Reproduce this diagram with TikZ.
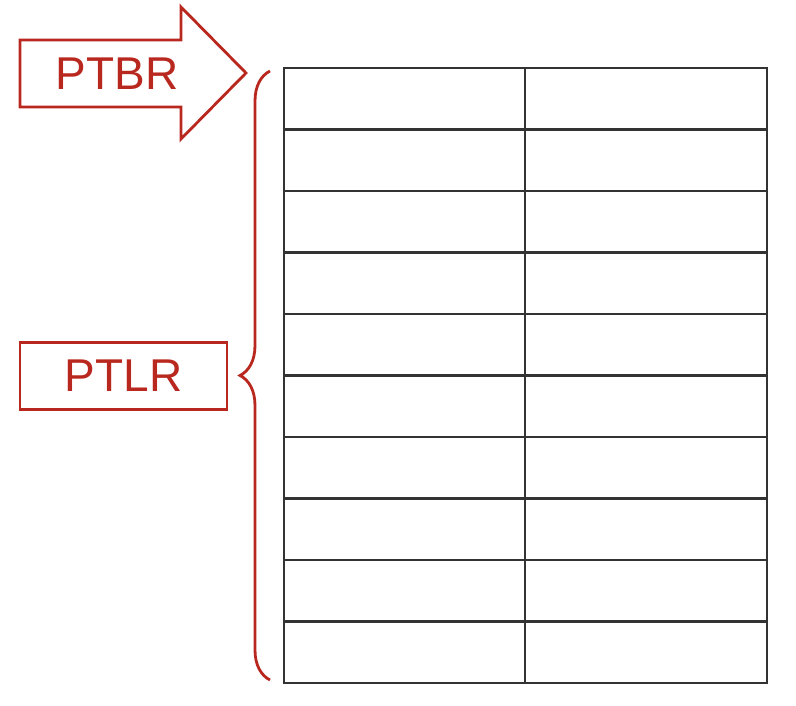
\documentclass[tikz,border=0pt]{standalone}
\usepackage{fontspec}
\setmainfont{Liberation Sans}
\usepackage{tikz}
\usetikzlibrary{positioning, decorations.pathreplacing}
\definecolor{ptred}{RGB}{185,40,30}
\tikzstyle{tline} = [draw, line width = 2.8pt, black!80]
\tikzstyle{rline} = [draw, ptred, line width = 2.8pt, line join = miter]
\tikzstyle{lbl} = [text = ptred, font = \fontsize{46}{46}\selectfont, inner sep = 0pt]

\begin{document}
\begin{tikzpicture}[x=1pt, y=-1pt]
			\useasboundingbox (0,0) rectangle (796,706);
			% page table
			\foreach \r in {0,...,9} {
				\path [tline] (284, 68+61.5*\r) rectangle (525, 68+61.5*\r+61.5);
				\path [tline] (525, 68+61.5*\r) rectangle (767, 68+61.5*\r+61.5);
			}
			\coordinate (tabtop) at (270, 71);
			\coordinate (tabbot) at (270, 680);
			
			% base register
			\coordinate (tip) at (246, 73);
			\path [rline] (20, 40) -- (181, 40) -- (181, 7) -- (tip) -- (181, 139) -- (181, 107) -- (20, 107) -- cycle;
			\node [lbl] (ptbr) at (117, 74) {PTBR};
			
			% length register
			\node [rline, lbl, minimum width = 207pt, minimum height = 67pt] (ptlr) at (123.5, 376) {PTLR};
			
			\path [rline, decorate, decoration = {brace, amplitude = 30pt}] (tabbot) -- (tabtop);
		\end{tikzpicture}
\end{document}
